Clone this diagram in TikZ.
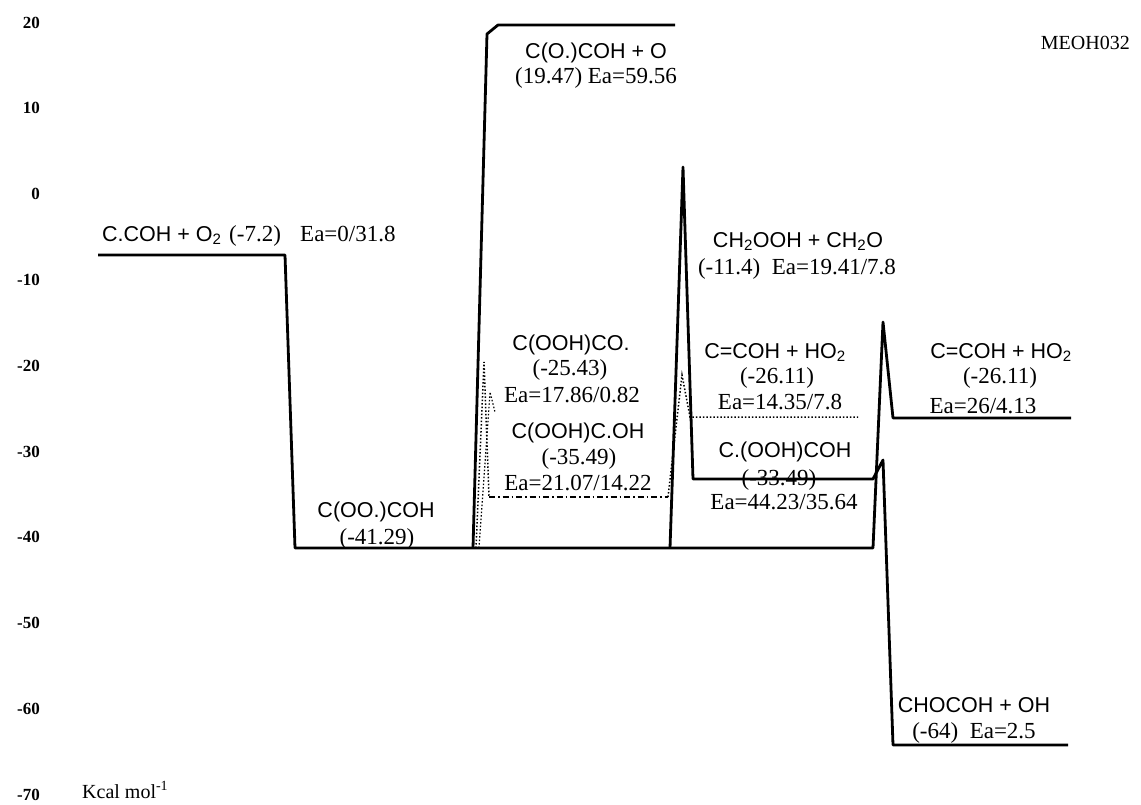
\documentclass[tikz,border=0pt]{standalone}
\usepackage{fontspec}
\setmainfont{Liberation Serif}
\newfontfamily\sanslab{Liberation Sans}
\begin{document}
\begin{tikzpicture}[x=1pt,y=-1pt]
\tikzset{
 lvl/.style={line width=2.8pt, line join=round},
 dotpath/.style={line width=1.5pt, dotted},
 dashdotpath/.style={line width=1.4pt, dash pattern=on 6pt off 3pt on 1.5pt off 3pt},
 fsans/.style={font=\sanslab\fontsize{21.5}{24}\selectfont, inner sep=0pt},
 fser/.style={font=\fontsize{23}{26}\selectfont, inner sep=0pt},
 ax/.style={font=\bfseries\fontsize{17}{20}\selectfont, anchor=base east, inner sep=0pt},
}
\path[use as bounding box] (0,0) rectangle (1141,804);

% axis labels
\foreach \v [count=\k from 0] in {20,10,0,-10,-20,-30,-40,-50,-60,-70}
  \node[ax] (ax\k) at (40,{28+85.8*\k}) {\v};
\node[fser, anchor=base west, font=\fontsize{20}{24}\selectfont] (unit) at (82,798) {Kcal mol\textsuperscript{-1}};
\node[fser, anchor=base east, font=\fontsize{20}{24}\selectfont] (title) at (1130,49) {MEOH032};

% coordinates
\coordinate (a1) at (98,255);
\coordinate (a2) at (285,255);
\coordinate (b1) at (295,548);
\coordinate (bR) at (873,548);
\coordinate (fP) at (883,322);
\coordinate (f1) at (893,418);
\coordinate (f2) at (1071,418);
\coordinate (c1) at (473,548);
\coordinate (c2) at (487,34);
\coordinate (c3) at (498,25);
\coordinate (c4) at (675,25);
\coordinate (d1) at (670,548);
\coordinate (dP) at (683,167);
\coordinate (d2) at (693,479);
\coordinate (d3) at (873,479);
\coordinate (eP) at (883,460);
\coordinate (e1) at (893,745);
\coordinate (e2) at (1068,745);

% solid paths
\draw[lvl] (a1) -- (a2) -- (b1) -- (bR) -- (fP) -- (f1) -- (f2);
\draw[lvl] (c1) -- (c2) -- (c3) -- (c4);
\draw[lvl] (d1) -- (dP) -- (d2) -- (d3) -- (eP) -- (e1) -- (e2);

% dotted / dash-dot paths
\coordinate (g1) at (476,548);
\coordinate (gP) at (484,362);
\coordinate (g2) at (489,497);
\coordinate (g3) at (668,497);
\coordinate (hP) at (682,375);
\coordinate (h1) at (690,417);
\coordinate (h2) at (858,417);
\coordinate (k1) at (479,548);
\coordinate (kP) at (490,392);
\coordinate (k2) at (495,412);
\draw[dotpath] (g1) -- (gP) -- (g2);
\draw[dashdotpath] (g2) -- (g3);
\draw[dotpath] (g3) -- (hP) -- (h1) -- (h2);
\draw[dotpath, line width=1.2pt] (k1) -- (kP) -- (k2);

% labels
\node[fsans, anchor=base west] (l1a) at (102,241) {C.COH + O\textsubscript{2}};
\node[fser, anchor=base west] (l1b) at (229,241) {(-7.2)};
\node[fser, anchor=base west] (l1c) at (300,241) {Ea=0/31.8};

\node[fsans, anchor=base] (l2a) at (596,58) {C(O.)COH + O};
\node[fser, anchor=base] (l2b) at (596,83) {(19.47) Ea=59.56};

\node[fsans, anchor=base] (l3a) at (376,517) {C(OO.)COH};
\node[fser, anchor=base] (l3b) at (377,544) {(-41.29)};

\node[fsans, anchor=base] (l4a) at (571,350) {C(OOH)CO.};
\node[fser, anchor=base] (l4b) at (570,375) {(-25.43)};
\node[fser, anchor=base] (l4c) at (572,402) {Ea=17.86/0.82};

\node[fsans, anchor=base] (l5a) at (578,438) {C(OOH)C.OH};
\node[fser, anchor=base] (l5b) at (579,464) {(-35.49)};
\node[fser, anchor=base] (l5c) at (578,490) {Ea=21.07/14.22};

\node[fsans, anchor=base] (l6a) at (798,247) {CH\textsubscript{2}OOH + CH\textsubscript{2}O};
\node[fser, anchor=base] (l6b) at (797,274) {(-11.4)\ \ Ea=19.41/7.8};

\node[fsans, anchor=base] (l7a) at (775,358) {C=COH + HO\textsubscript{2}};
\node[fser, anchor=base] (l7b) at (777,383) {(-26.11)};
\node[fser, anchor=base] (l7c) at (780,409) {Ea=14.35/7.8};

\node[fsans, anchor=base] (l8a) at (785,457) {C.(OOH)COH};
\node[fser, anchor=base] (l8b) at (779,485) {(-33.49)};
\node[fser, anchor=base] (l8c) at (784,509) {Ea=44.23/35.64};

\node[fsans, anchor=base] (l9a) at (1001,358) {C=COH + HO\textsubscript{2}};
\node[fser, anchor=base] (l9b) at (1000,383) {(-26.11)};
\node[fser, anchor=base] (l9c) at (983,413) {Ea=26/4.13};

\node[fsans, anchor=base] (l10a) at (974,712) {CHOCOH + OH};
\node[fser, anchor=base] (l10b) at (974,738) {(-64)\ \ Ea=2.5};
\end{tikzpicture}
\end{document}
